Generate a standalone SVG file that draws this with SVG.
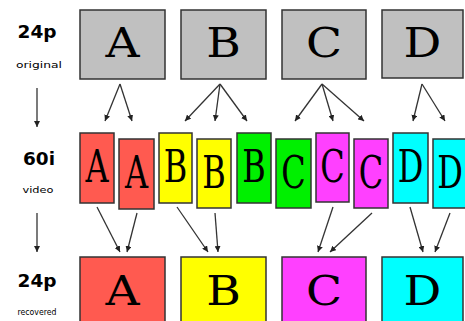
<svg xmlns="http://www.w3.org/2000/svg" width="465" height="321" viewBox="0 0 465 321">
<style>
.box{stroke:#333;stroke-width:1.5}
.g{fill:#c0c0c0}.r{fill:#ff5a50}.y{fill:#ffff00}.gr{fill:#00f000}.m{fill:#ff40ff}.c{fill:#00ffff}
.L{font-family:"DejaVu Serif","Liberation Serif",serif;font-size:41px;fill:#000;text-anchor:middle}
.big{font-family:"DejaVu Sans","Liberation Sans",sans-serif;font-weight:bold;font-size:17px;fill:#000;text-anchor:middle}
.sm{font-family:"DejaVu Sans","Liberation Sans",sans-serif;font-size:8.5px;fill:#000;text-anchor:middle}
.ln{stroke:#333;stroke-width:1.3;fill:none;marker-end:url(#ah)}
</style>
<defs>
<marker id="ah" viewBox="0 0 10 10" refX="10" refY="5" markerWidth="6" markerHeight="6" markerUnits="userSpaceOnUse" orient="auto"><path d="M0,0L10,5L0,10z" fill="#222"/></marker>
</defs>
<g id="labels">
<text class="big" x="37" y="38" textLength="39" lengthAdjust="spacingAndGlyphs">24p</text>
<text class="sm" x="39" y="68" textLength="46" lengthAdjust="spacingAndGlyphs">original</text>
<text class="big" x="39" y="165" textLength="32" lengthAdjust="spacingAndGlyphs">60i</text>
<text class="sm" x="38" y="193" textLength="31" lengthAdjust="spacingAndGlyphs">video</text>
<text class="big" x="37" y="287" textLength="39" lengthAdjust="spacingAndGlyphs">24p</text>
<text class="sm" x="37" y="315" textLength="39" lengthAdjust="spacingAndGlyphs">recovered</text>
</g>
<g id="top-A"><rect class="box g" x="80" y="10" width="85" height="69"/><text class="L" transform="translate(122.5,57) scale(1.15,1)">A</text></g>
<g id="top-B"><rect class="box g" x="181" y="10" width="85" height="69"/><text class="L" transform="translate(223.5,57) scale(1.15,1)">B</text></g>
<g id="top-C"><rect class="box g" x="282" y="10" width="84" height="69"/><text class="L" transform="translate(324,57) scale(1.15,1)">C</text></g>
<g id="top-D"><rect class="box g" x="382" y="10" width="81" height="68"/><text class="L" transform="translate(422.5,57) scale(1.15,1)">D</text></g>
<g id="mid-A1"><rect class="box r" x="80" y="133" width="34" height="70"/><text class="L" transform="translate(97,182) scale(0.78,1.07)">A</text></g>
<g id="mid-A2"><rect class="box r" x="119" y="139" width="35" height="70"/><text class="L" transform="translate(136.5,188) scale(0.78,1.07)">A</text></g>
<g id="mid-B1"><rect class="box y" x="159" y="133" width="33" height="70"/><text class="L" transform="translate(175.5,182) scale(0.78,1.07)">B</text></g>
<g id="mid-B2"><rect class="box y" x="197" y="139" width="34" height="69"/><text class="L" transform="translate(214,188) scale(0.78,1.07)">B</text></g>
<g id="mid-B3"><rect class="box gr" x="237" y="133" width="34" height="70"/><text class="L" transform="translate(254,182) scale(0.78,1.07)">B</text></g>
<g id="mid-C1"><rect class="box gr" x="276" y="139" width="35" height="69"/><text class="L" transform="translate(293.5,188) scale(0.78,1.07)">C</text></g>
<g id="mid-C2"><rect class="box m" x="316" y="133" width="33" height="69"/><text class="L" transform="translate(332.5,182) scale(0.78,1.07)">C</text></g>
<g id="mid-C3"><rect class="box m" x="354" y="139" width="34" height="69"/><text class="L" transform="translate(371,188) scale(0.78,1.07)">C</text></g>
<g id="mid-D1"><rect class="box c" x="393" y="133" width="35" height="70"/><text class="L" transform="translate(410.5,182) scale(0.78,1.07)">D</text></g>
<g id="mid-D2"><rect class="box c" x="433" y="139" width="34" height="69"/><text class="L" transform="translate(450,188) scale(0.78,1.07)">D</text></g>
<g id="bot-A"><rect class="box r" x="80" y="257" width="85" height="70"/><text class="L" transform="translate(122.5,305) scale(1.15,1)">A</text></g>
<g id="bot-B"><rect class="box y" x="181" y="257" width="85" height="70"/><text class="L" transform="translate(223.5,305) scale(1.15,1)">B</text></g>
<g id="bot-C"><rect class="box m" x="282" y="257" width="84" height="70"/><text class="L" transform="translate(324,305) scale(1.15,1)">C</text></g>
<g id="bot-D"><rect class="box c" x="382" y="257" width="81" height="70"/><text class="L" transform="translate(422.5,305) scale(1.15,1)">D</text></g>
<g id="connectors">
<path class="ln" d="M37,88V127"/>
<path class="ln" d="M37,213V252"/>
<path class="ln" d="M120,84L105,121"/>
<path class="ln" d="M120,84L132,121"/>
<path class="ln" d="M220,84L185,121"/>
<path class="ln" d="M220,84L215,121"/>
<path class="ln" d="M220,84L247,121"/>
<path class="ln" d="M322,84L295,121"/>
<path class="ln" d="M322,84L333,121"/>
<path class="ln" d="M322,84L364,121"/>
<path class="ln" d="M422,84L413,121"/>
<path class="ln" d="M422,84L445,121"/>
<path class="ln" d="M97,207L120,252"/>
<path class="ln" d="M137,213L127,252"/>
<path class="ln" d="M177,207L208,252"/>
<path class="ln" d="M215,213L218,252"/>
<path class="ln" d="M333,207L318,252"/>
<path class="ln" d="M372,213L330,252"/>
<path class="ln" d="M410,207L423,252"/>
<path class="ln" d="M450,213L435,252"/>
</g>
</svg>
